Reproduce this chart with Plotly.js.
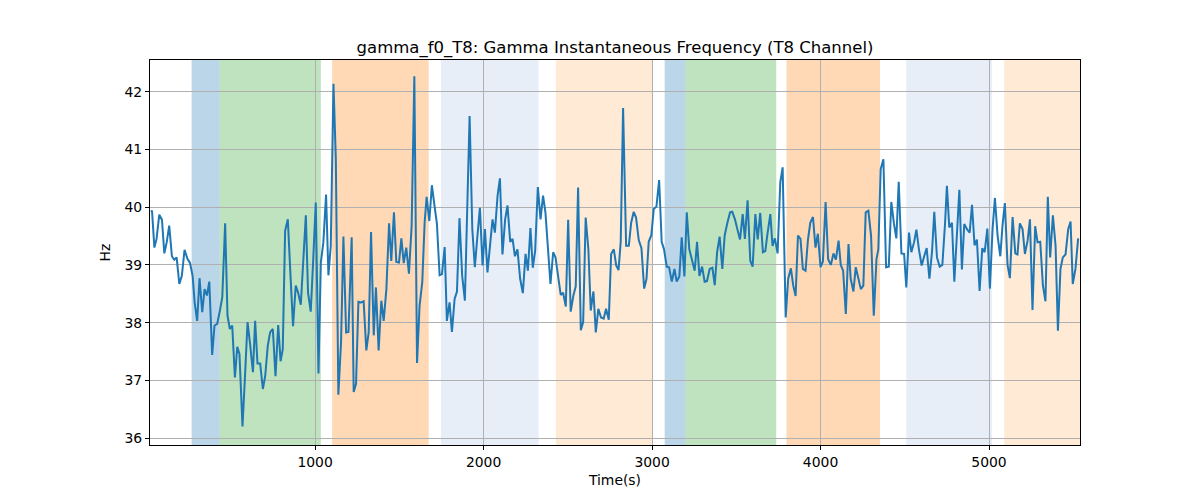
<!DOCTYPE html>
<html>
<head>
<meta charset="utf-8">
<script src="https://cdn.plot.ly/plotly-3.0.1.min.js"></script>
<style>
  body { margin: 0; background: #fff; }
  #plot { width: 1200px; height: 500px; }
</style>
</head>
<body>
<div id="plot"></div>
<script>
// time stamps (s) of the samples
var timeS = [
  26, 32, 46, 59, 75, 91, 105, 119, 134, 150, 164, 178, 194, 209, 225, 243, 257, 273, 285, 300,
  314, 330, 344, 358, 372, 389, 403, 419, 435, 449, 466, 480, 494, 508, 524, 538, 551, 569, 585, 599,
  615, 631, 644, 658, 674, 690, 704, 719, 733, 749, 765, 781, 795, 808, 822, 838, 854, 869, 885, 899,
  915, 929, 945, 958, 974, 988, 1004, 1020, 1034, 1049, 1065, 1079, 1093, 1109, 1123, 1138, 1154, 1168, 1184, 1198,
  1217, 1229, 1243, 1257, 1273, 1288, 1304, 1318, 1332, 1348, 1361, 1377, 1393, 1407, 1423, 1439, 1452, 1468, 1482, 1498,
  1512, 1526, 1541, 1557, 1573, 1589, 1605, 1620, 1636, 1650, 1662, 1678, 1693, 1709, 1723, 1739, 1753, 1769, 1782, 1798,
  1812, 1828, 1842, 1857, 1873, 1889, 1903, 1917, 1933, 1948, 1962, 1978, 1994, 2008, 2023, 2039, 2053, 2067, 2083, 2097,
  2112, 2128, 2142, 2158, 2172, 2186, 2201, 2217, 2233, 2249, 2263, 2278, 2292, 2306, 2322, 2338, 2353, 2367, 2383, 2397,
  2413, 2427, 2442, 2458, 2472, 2488, 2502, 2517, 2533, 2547, 2561, 2577, 2591, 2606, 2622, 2636, 2652, 2666, 2681, 2697,
  2713, 2727, 2743, 2757, 2773, 2787, 2801, 2814, 2828, 2846, 2862, 2876, 2891, 2905, 2921, 2937, 2953, 2967, 2980, 2996,
  3010, 3026, 3042, 3057, 3071, 3087, 3101, 3117, 3133, 3146, 3162, 3176, 3192, 3206, 3221, 3237, 3253, 3267, 3281, 3297,
  3312, 3326, 3342, 3358, 3372, 3386, 3401, 3417, 3431, 3447, 3463, 3476, 3492, 3506, 3522, 3538, 3551, 3567, 3583, 3597,
  3613, 3627, 3642, 3658, 3672, 3686, 3702, 3715, 3729, 3745, 3761, 3775, 3793, 3808, 3824, 3838, 3852, 3866, 3881, 3895,
  3911, 3925, 3939, 3955, 3970, 3984, 4000, 4014, 4030, 4045, 4061, 4077, 4091, 4107, 4120, 4134, 4150, 4166, 4179, 4195,
  4209, 4225, 4239, 4254, 4268, 4284, 4300, 4316, 4332, 4343, 4357, 4373, 4389, 4405, 4420, 4436, 4450, 4464, 4480, 4496,
  4509, 4525, 4539, 4555, 4569, 4584, 4600, 4616, 4630, 4646, 4662, 4675, 4691, 4707, 4723, 4739, 4750, 4764, 4780, 4794,
  4810, 4824, 4839, 4853, 4869, 4885, 4899, 4914, 4928, 4944, 4960, 4974, 4990, 5005, 5021, 5035, 5051, 5067, 5080, 5094,
  5110, 5124, 5140, 5156, 5169, 5183, 5199, 5213, 5229, 5243, 5258, 5274, 5288, 5304, 5320, 5335, 5349, 5363, 5379, 5395,
  5409, 5424, 5438, 5454, 5470, 5484, 5497, 5513, 5529
];

// instantaneous gamma frequency (Hz)
var freqHz = [
  39.92, 39.94, 39.30, 39.45, 39.87, 39.78, 39.20, 39.39, 39.68, 39.15, 39.09, 39.13, 38.67, 38.81, 39.26, 39.10, 39.04, 38.81, 38.35, 38.03,
  38.77, 38.18, 38.58, 38.47, 38.71, 37.44, 37.95, 37.98, 38.21, 38.44, 39.72, 38.12, 37.89, 37.95, 37.05, 37.58, 37.46, 36.20, 37.14, 38.01,
  37.60, 37.14, 38.03, 37.29, 37.29, 36.85, 37.08, 37.60, 37.83, 37.89, 37.07, 37.96, 37.33, 37.54, 39.59, 39.79, 38.81, 37.94, 38.64, 38.52,
  38.31, 39.04, 39.86, 38.52, 38.19, 39.04, 40.08, 37.12, 39.04, 39.39, 40.22, 38.82, 39.33, 42.14, 40.83, 36.75, 37.66, 39.49, 37.83, 37.84,
  39.48, 36.80, 36.94, 38.36, 38.35, 38.37, 37.52, 37.83, 39.57, 37.78, 38.61, 37.52, 38.38, 38.03, 38.58, 39.72, 39.07, 39.91, 39.05, 39.04,
  39.46, 39.03, 39.30, 38.85, 39.68, 42.27, 37.30, 38.29, 38.70, 39.73, 40.18, 39.76, 40.38, 40.02, 39.71, 38.82, 38.84, 39.31, 38.03, 38.35,
  37.84, 38.41, 38.54, 39.81, 38.81, 38.38, 39.83, 41.58, 39.62, 38.96, 39.45, 39.99, 38.99, 39.62, 38.87, 39.42, 39.79, 39.56, 40.20, 40.50,
  39.18, 39.79, 40.03, 39.40, 39.45, 39.15, 39.27, 38.76, 38.51, 39.19, 38.90, 39.64, 38.95, 39.24, 40.35, 39.79, 40.20, 39.91, 39.27, 38.67,
  39.22, 39.13, 38.81, 38.48, 38.52, 38.28, 39.78, 38.19, 38.47, 38.63, 40.34, 37.87, 38.01, 39.82, 39.27, 38.21, 38.54, 37.83, 38.24, 38.09,
  38.07, 38.24, 38.05, 39.19, 39.27, 38.99, 38.91, 39.40, 41.72, 39.33, 39.33, 39.73, 39.92, 39.82, 39.43, 39.29, 38.59, 38.76, 39.40, 39.52,
  39.97, 40.01, 40.47, 39.40, 39.27, 38.97, 38.96, 38.71, 38.93, 38.71, 38.80, 39.48, 38.80, 39.91, 39.27, 39.10, 38.90, 39.40, 38.81, 38.97,
  38.71, 38.72, 38.93, 38.95, 38.65, 39.22, 39.49, 38.93, 39.51, 39.73, 39.91, 39.92, 39.79, 39.62, 39.44, 39.88, 39.45, 40.12, 39.07, 38.97,
  39.88, 39.44, 39.90, 39.22, 39.24, 39.56, 39.88, 39.33, 39.46, 39.20, 40.43, 40.69, 38.09, 38.76, 38.94, 38.64, 38.46, 39.51, 39.45, 38.93,
  38.90, 39.43, 39.73, 39.83, 39.30, 39.54, 38.96, 39.06, 40.09, 39.10, 39.00, 39.20, 39.09, 39.42, 39.00, 38.90, 38.15, 39.36, 38.76, 38.54,
  38.96, 38.76, 38.58, 38.64, 39.91, 39.94, 39.50, 38.12, 39.10, 39.27, 40.66, 40.83, 38.96, 38.97, 40.09, 39.71, 39.46, 40.44, 39.20, 39.19,
  38.61, 39.56, 39.22, 39.39, 39.61, 39.27, 38.99, 39.16, 39.29, 38.76, 39.24, 39.92, 39.13, 38.97, 39.00, 39.72, 40.37, 39.65, 39.73, 38.71,
  39.53, 40.30, 38.92, 39.71, 39.62, 39.56, 40.04, 39.34, 39.44, 38.55, 39.29, 39.22, 39.63, 38.59, 39.62, 40.16, 39.50, 39.15, 39.68, 40.07,
  39.00, 38.77, 39.83, 39.20, 39.18, 39.72, 39.62, 39.19, 39.42, 39.79, 38.22, 39.67, 39.39, 39.40, 38.64, 38.37, 40.18, 39.13, 39.86, 39.33,
  37.86, 38.93, 39.13, 39.18, 39.62, 39.75, 38.67, 38.93, 39.46
];

// shaded segments (start, end in s) and their colours
var spanStart = [267, 433, 1101, 1747, 2429, 3075, 3198, 3798, 4509, 5090];
var spanEnd   = [433, 1034, 1674, 2326, 3000, 3198, 3737, 4353, 5017, 5540];
var spanColor = ['#1f77b4', '#2ca02c', '#ff7f0e', '#aec7e8', '#ffbb78',
                 '#1f77b4', '#2ca02c', '#ff7f0e', '#aec7e8', '#ffbb78'];

var shapes = [];
for (var i = 0; i < spanStart.length; i++) {
  shapes.push({
    type: 'rect', xref: 'x', yref: 'paper',
    x0: spanStart[i], x1: spanEnd[i], y0: 0, y1: 1,
    fillcolor: spanColor[i], opacity: 0.3,
    line: { width: 0 }, layer: 'below'
  });
}

var trace = {
  x: timeS,
  y: freqHz,
  type: 'scatter',
  mode: 'lines',
  line: { color: '#1f77b4', width: 2 },
  hoverinfo: 'x+y'
};

var axisStyle = {
  showline: true, linecolor: '#000', linewidth: 1, mirror: true,
  ticks: 'outside', ticklen: 4, tickcolor: '#000',
  showgrid: true, gridcolor: '#b0b0b0', gridwidth: 1,
  zeroline: false,
  tickfont: { family: 'DejaVu Sans', size: 13.9, color: '#000' }
};

var layout = {
  width: 1200, height: 500,
  margin: { l: 150, r: 120, t: 60, b: 55 },
  paper_bgcolor: '#fff', plot_bgcolor: '#fff',
  showlegend: false,
  title: {
    text: 'gamma_f0_T8: Gamma Instantaneous Frequency (T8 Channel)',
    font: { family: 'DejaVu Sans', size: 16.5, color: '#000' },
    xref: 'paper', x: 0.5, xanchor: 'center', y: 0.895, yanchor: 'bottom'
  },
  xaxis: Object.assign({}, axisStyle, {
    range: [20, 5540],
    tickvals: [1000, 2000, 3000, 4000, 5000],
    title: { text: 'Time(s)', font: { family: 'DejaVu Sans', size: 13.9, color: '#000' }, standoff: 6 }
  }),
  yaxis: Object.assign({}, axisStyle, {
    range: [35.88, 42.55],
    tickvals: [36, 37, 38, 39, 40, 41, 42],
    title: { text: 'Hz', font: { family: 'DejaVu Sans', size: 13.9, color: '#000' }, standoff: 10 }
  }),
  shapes: shapes
};

Plotly.newPlot('plot', [trace], layout, { displayModeBar: false, staticPlot: true });
</script>
</body>
</html>
